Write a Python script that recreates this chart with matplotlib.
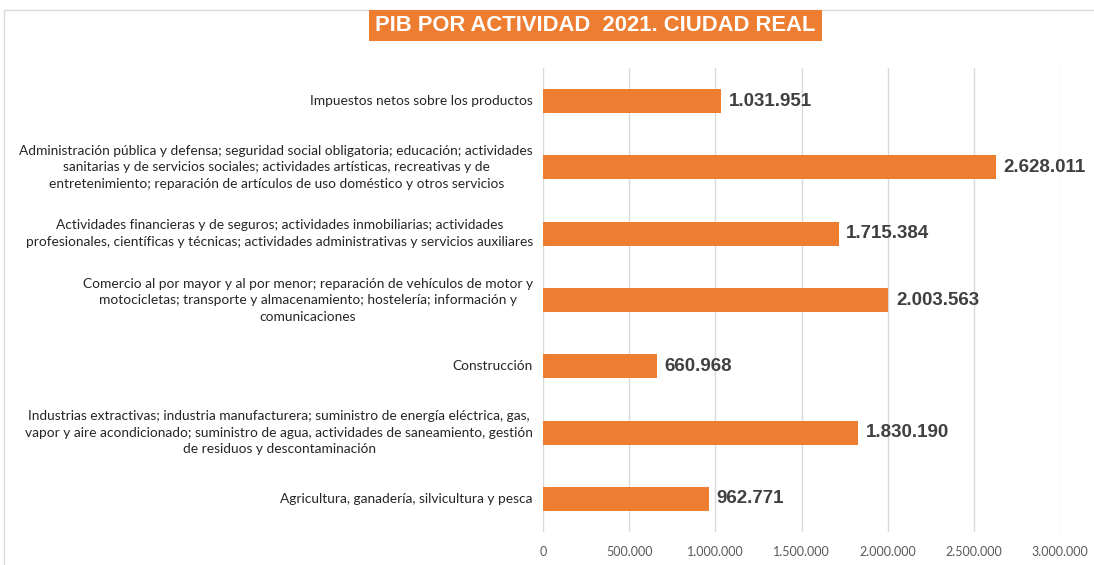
import matplotlib.pyplot as plt
from matplotlib.patches import Rectangle
from matplotlib.ticker import FuncFormatter
from matplotlib.transforms import blended_transform_factory, offset_copy

# data, bottom to top as drawn
categories = [
    "Agricultura, ganadería, silvicultura y pesca",
    "Industrias extractivas; industria manufacturera; suministro de energía eléctrica, gas,\n"
    "vapor y aire acondicionado; suministro de agua, actividades de saneamiento, gestión\n"
    "de residuos y descontaminación",
    "Construcción",
    "Comercio al por mayor y al por menor; reparación de vehículos de motor y\n"
    "motocicletas; transporte y almacenamiento; hostelería; información y\n"
    "comunicaciones",
    "Actividades financieras y de seguros; actividades inmobiliarias; actividades\n"
    "profesionales, científicas y técnicas; actividades administrativas y servicios auxiliares",
    "Administración pública y defensa; seguridad social obligatoria; educación; actividades\n"
    "sanitarias y de servicios sociales; actividades artísticas, recreativas y de\n"
    "entretenimiento; reparación de artículos de uso doméstico y otros servicios",
    "Impuestos netos sobre los productos",
]
values = [962771, 1830190, 660968, 2003563, 1715384, 2628011, 1031951]
xticks = [0, 500000, 1000000, 1500000, 2000000, 2500000, 3000000]

ORANGE = "#ED7D31"


def miles(v, pos=None):
    return f"{int(v):,}".replace(",", ".")


fig = plt.figure(figsize=(10.94, 5.65), dpi=100)
ax = fig.add_axes([543 / 1094, 1 - 532 / 565, (1060 - 543) / 1094, (532 - 68) / 565])

y = list(range(len(categories)))
ax.barh(y, values, height=0.36, color=ORANGE, zorder=3)

for yi, v in zip(y, values):
    ax.annotate(miles(v), (v, yi), xytext=(5.5, 0), textcoords="offset points",
                va="center", ha="left", fontsize=13.5, fontweight="bold",
                color="#404040", family=["Liberation Sans", "DejaVu Sans"], zorder=4)

ax.set_xlim(0, 3000000)
ax.set_ylim(-0.5, len(categories) - 0.5)
ax.set_xticks(xticks)
ax.xaxis.set_major_formatter(FuncFormatter(miles))
ax.set_yticks(y)
ax.set_yticklabels([])
ax.tick_params(axis="y", length=0)
ax.tick_params(axis="x", length=0, pad=10, labelsize=9, labelcolor="#595959")
for lbl in ax.get_xticklabels():
    lbl.set_family(["Lato", "DejaVu Sans"])

# category labels: right edge next to the axis, lines centred
lab_tr = offset_copy(blended_transform_factory(ax.transAxes, ax.transData),
                     fig=fig, x=-10, y=0, units="dots")
for yi, name in zip(y, categories):
    ax.text(0, yi, name, transform=lab_tr, ha="right", va="center",
            multialignment="center", fontsize=9.9, color="#262626",
            family=["Lato", "DejaVu Sans"], linespacing=1.45)

ax.grid(axis="x", color="#D9D9D9", linewidth=1, zorder=0)
for s in ax.spines.values():
    s.set_visible(False)

# outer chart border
fig.patches.append(Rectangle((4 / 1094, -0.01), 1.02, 1 - 10 / 565 + 0.01,
                             transform=fig.transFigure, fill=False,
                             edgecolor="#D9D9D9", linewidth=1))

# title box
fig.patches.append(Rectangle((369 / 1094, 1 - 41 / 565), (822 - 369) / 1094, 31 / 565,
                             transform=fig.transFigure, facecolor=ORANGE,
                             edgecolor="none"))
fig.text(595.5 / 1094, 1 - 25.5 / 565, "PIB POR ACTIVIDAD  2021. CIUDAD REAL",
         ha="center", va="center", color="white", fontsize=15.8, fontweight="bold",
         family=["Liberation Sans", "DejaVu Sans"])

fig.savefig("out.png", dpi=100)
